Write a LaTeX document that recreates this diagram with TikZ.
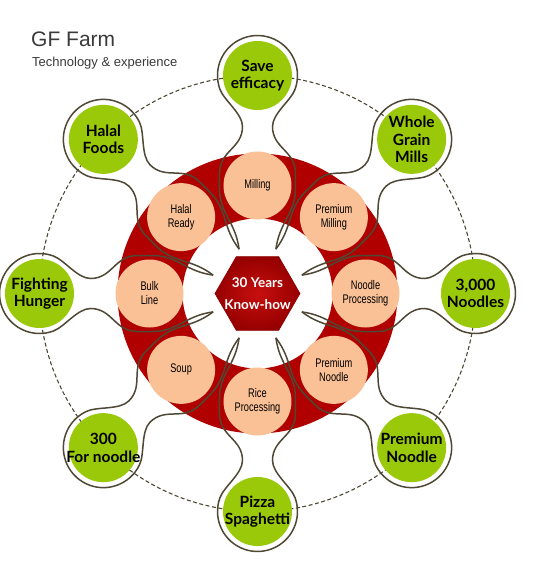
\documentclass[tikz,border=0pt]{standalone}
\usepackage{fontspec}
\setmainfont{Lato}
\newfontfamily\titlefont{Liberation Sans}
\newfontfamily\narrowfont[FakeStretch=0.74]{Liberation Sans}
\usetikzlibrary{shapes.geometric}
\definecolor{ringred}{RGB}{176,0,0}
\definecolor{peach}{RGB}{250,192,150}
\definecolor{leaf}{RGB}{153,201,8}
\definecolor{olive}{RGB}{78,72,52}
\definecolor{titlegray}{RGB}{58,58,58}
\tikzset{
  outer/.style={circle, fill=leaf, minimum size=69pt, inner sep=0pt},
  outer text/.style={align=center, inner sep=0pt, font=\fontsize{15.5}{17.5}\selectfont\bfseries},
  inner/.style={circle, fill=peach, minimum size=68pt, inner sep=0pt, align=center,
    font=\narrowfont\fontsize{12.5}{14}\selectfont},
  spoke/.style={draw=olive, line width=1.5pt},
}
\begin{document}
\begin{tikzpicture}[x=1pt, y=1pt]
    \fill[white] (-257.5,-269.5) rectangle (282.5,293.5);
    \useasboundingbox (-257.5,-269.5) rectangle (282.5,293.5);
    \draw[olive, line width=1.1pt, dash pattern=on 4pt off 2.5pt] (0,0) circle[radius=218pt];
    \fill[ringred, even odd rule] (0,0) circle[radius=140pt] (0,0) circle[radius=75pt];
    \foreach \a in {90,45,0,-45,-90,-135,180,135}
        \draw[spoke, rotate=\a-90] (-18.4,44.3) .. controls (-22,72) and (-38,80) .. (-38,105) -- (-38,120)
            .. controls (-38,143) and (-15,145) .. (-15,167) .. controls (-15,180) and (-33.5,193) .. (-37.6,204.3)
            arc[start angle=200, end angle=-20, radius=40pt]
            .. controls (33.5,193) and (15,180) .. (15,167) .. controls (15,145) and (38,143) .. (38,120)
            -- (38,105) .. controls (38,80) and (22,72) .. (18.4,44.3);
    \node[inner] (milling) at (90:108) {Milling};
    \node[inner] (premmilling) at (45:108) {Premium\\Milling};
    \node[inner] (noodleproc) at (0:108) {Noodle\\Processing};
    \node[inner] (premnoodle) at (-45:108) {Premium\\Noodle};
    \node[inner] (riceproc) at (-90:108) {Rice\\Processing};
    \node[inner] (soup) at (-135:108) {Soup};
    \node[inner] (bulk) at (180:108) {Bulk\\Line};
    \node[inner] (halalready) at (135:108) {Halal\\Ready};
    \node[outer, label={[outer text]center:{Save\\efficacy}}] (save) at (90:218) {};
    \node[outer, label={[outer text]center:{Whole\\Grain\\Mills}}] (wholegrain) at (45:218) {};
    \node[outer, label={[outer text]center:{3,000\\Noodles}}] (noodles) at (0:218) {};
    \node[outer, label={[outer text]center:{Premium\\Noodle}}] (premium) at (-45:218) {};
    \node[outer, label={[outer text]center:{Pizza\\Spaghetti}}] (pizza) at (-90:218) {};
    \node[outer, label={[outer text]center:{300\\For noodle}}] (fornoodle) at (-135:218) {};
    \node[outer, label={[outer text]center:{Fighting\\Hunger}}] (hunger) at (180:218) {};
    \node[outer, label={[outer text]center:{Halal\\Foods}}] (halal) at (135:218) {};
    \node[regular polygon, regular polygon sides=6, minimum size=85pt, inner sep=0pt,
        inner color={rgb,255:red,200;green,15;blue,15}, outer color={rgb,255:red,150;green,0;blue,0},
        draw=ringred!80!black, line width=0.6pt] (hex) at (0,0) {};
    \node[text=white, align=center, font=\fontsize{13.5}{22}\selectfont\bfseries] (knowhow) at (hex) {30 Years\\Know-how};
    \node[anchor=base west, inner sep=0pt, text=titlegray, font=\titlefont\fontsize{21}{24}\selectfont] (title) at (-226.5,246.5) {GF Farm};
    \node[anchor=base west, inner sep=0pt, text=titlegray, font=\titlefont\fontsize{13}{15}\selectfont] (subtitle) at (-225.5,226.5) {Technology \& experience};
\end{tikzpicture}
\end{document}
